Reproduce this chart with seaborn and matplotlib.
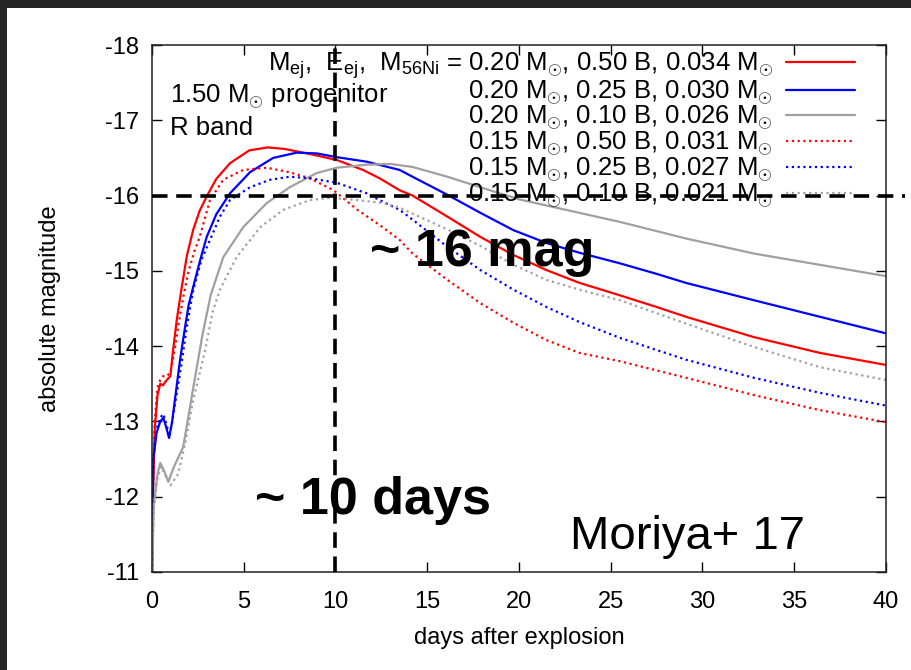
import matplotlib
matplotlib.use("Agg")
import matplotlib.pyplot as plt
import seaborn as sns
import pandas as pd
from matplotlib.patches import Rectangle

# ---------------- data ----------------
t_red = [0, 0.05, 0.15, 0.3, 0.45, 0.6, 0.8, 1.0, 1.15, 1.35, 1.6, 1.9, 2.25, 2.6, 3.05, 3.5, 4.25,
         5.3, 6.3, 7.2, 8.25, 9.2, 10.1, 11.5, 12.4, 13.5, 14.2, 16.1, 17.9, 19.7, 21.5, 23.3,
         25.3, 27.5, 29.1, 32.8, 36.4, 40]
m_red = [-11.0, -12.0, -12.9, -13.35, -13.5, -13.48, -13.55, -13.6, -13.95, -14.35, -14.75, -15.2,
         -15.55, -15.8, -16.02, -16.22, -16.43, -16.6, -16.64, -16.62, -16.57, -16.52, -16.47,
         -16.34, -16.23, -16.07, -16.0, -15.72, -15.45, -15.21, -15.01, -14.84, -14.69, -14.52,
         -14.39, -14.12, -13.91, -13.75]

t_blue = [0, 0.07, 0.25, 0.45, 0.62, 0.8, 0.93, 1.1, 1.25, 1.53, 1.8, 2.0, 2.25, 2.6, 2.98, 3.5,
          4.25, 5.34, 6.6, 7.88, 8.98, 10.07, 11.7, 13.5, 14.2, 16.1, 17.9, 19.7, 21.5, 23.3,
          25.5, 27.5, 29.1, 32.8, 36.4, 40]
m_blue = [-11.0, -12.5, -12.85, -13.0, -13.05, -12.9, -12.78, -13.0, -13.29, -13.82, -14.25,
          -14.55, -14.79, -15.12, -15.45, -15.75, -16.03, -16.31, -16.5, -16.57, -16.56, -16.51,
          -16.45, -16.34, -16.25, -16.01, -15.77, -15.54, -15.37, -15.24, -15.1, -14.96, -14.84,
          -14.61, -14.39, -14.17]

t_gray = [0, 0.1, 0.3, 0.45, 0.65, 0.89, 1.2, 1.7, 2.25, 2.75, 3.2, 3.88, 4.97, 6.25, 7.5, 8.98,
          10.07, 11.7, 13.0, 14.2, 16.1, 17.9, 20.0, 23.3, 25.5, 29.1, 32.8, 36.4, 40]
m_gray = [-11.0, -11.9, -12.3, -12.45, -12.35, -12.2, -12.4, -12.66, -13.45, -14.15, -14.68,
          -15.18, -15.58, -15.9, -16.11, -16.3, -16.37, -16.41, -16.42, -16.38, -16.25, -16.11,
          -15.95, -15.77, -15.65, -15.43, -15.23, -15.08, -14.93]

t_red_d = [0, 0.05, 0.15, 0.3, 0.45, 0.6, 0.8, 1.0, 1.2, 1.42, 1.7, 2.0, 2.3, 2.6, 3.16, 3.88,
           4.97, 6.25, 7.5, 8.6, 9.9, 11.2, 12.4, 13.5, 14.2, 16.1, 17.9, 19.7, 21.5, 23.3, 25.5,
           29.1, 32.8, 36.4, 40]
m_red_d = [-11.0, -12.1, -13.0, -13.45, -13.55, -13.6, -13.6, -13.65, -13.9, -14.25, -14.65,
           -15.0, -15.25, -15.45, -15.94, -16.21, -16.34, -16.37, -16.31, -16.23, -16.07, -15.81,
           -15.61, -15.41, -15.23, -14.88, -14.57, -14.31, -14.08, -13.91, -13.8, -13.58, -13.35,
           -13.15, -12.99]

t_blue_d = [0, 0.07, 0.25, 0.45, 0.62, 0.8, 0.95, 1.1, 1.3, 1.6, 1.9, 2.25, 2.7, 3.16, 3.7, 4.25,
            5.34, 6.43, 7.5, 8.6, 10.07, 11.7, 12.4, 13.5, 14.2, 16.1, 17.9, 19.7, 21.5, 23.3,
            25.5, 29.1, 32.8, 36.4, 40]
m_blue_d = [-11.0, -12.5, -12.9, -13.05, -13.1, -12.95, -12.8, -13.0, -13.3, -13.75, -14.26,
            -14.75, -15.15, -15.41, -15.72, -15.94, -16.11, -16.21, -16.25, -16.23, -16.17,
            -16.03, -15.94, -15.81, -15.68, -15.32, -15.01, -14.75, -14.52, -14.32, -14.11,
            -13.82, -13.58, -13.38, -13.21]

t_gray_d = [0, 0.1, 0.3, 0.5, 0.7, 1.0, 1.42, 1.8, 2.25, 2.9, 3.3, 3.7, 4.6, 5.9, 7.15, 8.6, 9.7,
            11.2, 12.6, 13.5, 14.2, 16.1, 17.9, 19.7, 21.5, 23.3, 25.5, 29.1, 32.8, 36.4, 40]
m_gray_d = [-11.0, -11.85, -12.25, -12.4, -12.3, -12.15, -12.3, -12.7, -13.29, -13.95, -14.45,
            -14.75, -15.18, -15.58, -15.81, -15.94, -15.97, -15.94, -15.9, -15.84, -15.76, -15.55,
            -15.33, -15.08, -14.88, -14.75, -14.61, -14.3, -13.99, -13.72, -13.55]

series_labels = [
    r"$\mathrm{M}_{\rm ej}$,  $\mathrm{E}_{\rm ej}$,  $\mathrm{M}_{\rm 56Ni}$ = "
    r"0.20 $\mathrm{M}_{\odot}$, 0.50 B, 0.034 $\mathrm{M}_{\odot}$",
    r"0.20 $\mathrm{M}_{\odot}$, 0.25 B, 0.030 $\mathrm{M}_{\odot}$",
    r"0.20 $\mathrm{M}_{\odot}$, 0.10 B, 0.026 $\mathrm{M}_{\odot}$",
    r"0.15 $\mathrm{M}_{\odot}$, 0.50 B, 0.031 $\mathrm{M}_{\odot}$",
    r"0.15 $\mathrm{M}_{\odot}$, 0.25 B, 0.027 $\mathrm{M}_{\odot}$",
    r"0.15 $\mathrm{M}_{\odot}$, 0.10 B, 0.021 $\mathrm{M}_{\odot}$",
]
series_t = [t_red, t_blue, t_gray, t_red_d, t_blue_d, t_gray_d]
series_m = [m_red, m_blue, m_gray, m_red_d, m_blue_d, m_gray_d]

x_ticks = [0, 5, 10, 15, 20, 25, 30, 35, 40]
y_ticks = [-18, -17, -16, -15, -14, -13, -12, -11]
mark_day = 10
mark_mag = -16

# ---------------- style ----------------
sns.set_style("ticks")
plt.rcParams["font.family"] = ["Liberation Sans", "DejaVu Sans"]
plt.rcParams["mathtext.fontset"] = "custom"
plt.rcParams["mathtext.rm"] = "Liberation Sans"
plt.rcParams["mathtext.it"] = "Liberation Sans:italic"
plt.rcParams["mathtext.bf"] = "Liberation Sans:bold"
plt.rcParams["axes.unicode_minus"] = False
for key in ["text.color", "axes.labelcolor", "xtick.color", "ytick.color"]:
    plt.rcParams[key] = "black"

colors = ["#ff0000", "#0000ff", "#a0a0a0", "#ff0000", "#0000ff", "#a0a0a0"]
styles = ["-", "-", "-", (0, (1, 1.6)), (0, (1, 1.6)), (0, (1, 1.6))]

fig = plt.figure(figsize=(9.12, 6.70), dpi=100)
fig.patch.set_facecolor("#262626")
fig.patches.append(Rectangle((7 / 912, 0), 1, 1 - 8 / 670, transform=fig.transFigure,
                             facecolor="white", edgecolor="none", zorder=-10))
ax = fig.add_axes([152 / 912, 1 - 572 / 670, (886 - 152) / 912, (572 - 45) / 670])
ax.set_facecolor("white")

for t, m, lab, c, ls in zip(series_t, series_m, series_labels, colors, styles):
    df = pd.DataFrame({"day": t, "mag": m})
    sns.lineplot(data=df, x="day", y="mag", ax=ax, color=c, linestyle=ls, lw=1.6,
                 label=lab, sort=False, estimator=None, legend=False)

ax.axvline(mark_day, color="black", lw=2.6, linestyle=(0, (4.3, 2.4)), zorder=5)
ax.plot([0, 41.05], [mark_mag, mark_mag], color="black", lw=2.6,
        linestyle=(0, (4.3, 2.4)), clip_on=False, zorder=5)

ax.set_xlim(0, 40)
ax.set_ylim(-11, -18)
ax.set_xticks(x_ticks)
ax.set_yticks(y_ticks)
ax.set_xticklabels([str(v) for v in x_ticks])
ax.set_yticklabels([str(v) for v in y_ticks])
ax.tick_params(direction="in", length=7, width=1.0, top=True, right=True,
               labelsize=17, colors="black")
ax.tick_params(axis="x", pad=14)
ax.tick_params(axis="y", pad=9)
for sp in ax.spines.values():
    sp.set_visible(True)
    sp.set_linewidth(1.1)
    sp.set_color("#222222")

ax.set_xlabel("days after explosion", fontsize=17, labelpad=10)
ax.set_ylabel("absolute magnitude", fontsize=17, labelpad=32)

handles, labels = ax.get_legend_handles_labels()
ax.legend(handles, labels, loc="upper right", bbox_to_anchor=(0.958, 0.99),
          frameon=False, fontsize=18.5, markerfirst=False, handlelength=2.7,
          handletextpad=0.5, labelspacing=-0.1, borderaxespad=0, borderpad=0)

ax.text(1.0, -17.32, r"1.50 $\mathrm{M}_{\odot}$ progenitor", fontsize=18.5,
        va="center", ha="left")
ax.text(1.0, -16.9, "R band", fontsize=18.5, va="center", ha="left")
ax.text(11.9, -15.25, "~ 16 mag", fontsize=37.5, fontweight="bold", va="center", ha="left")
ax.text(5.6, -11.95, "~ 10 days", fontsize=37.5, fontweight="bold", va="center", ha="left")
ax.text(22.8, -11.47, "Moriya+ 17", fontsize=34, va="center", ha="left")

fig.savefig("out.png", dpi=100, facecolor=fig.get_facecolor())
